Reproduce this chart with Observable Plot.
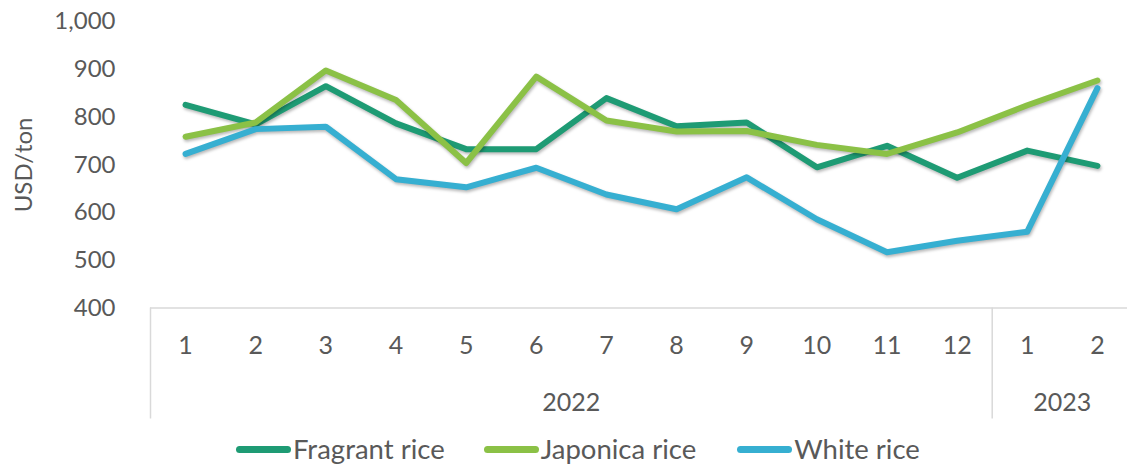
<!DOCTYPE html>
<html>
<head>
<meta charset="utf-8">
<script src="https://cdn.jsdelivr.net/npm/d3@7"></script>
<script src="https://cdn.jsdelivr.net/npm/@observablehq/plot@0.6"></script>
<style>
  html, body { margin: 0; padding: 0; background: #fff; }
  body { width: 1127px; height: 465px; overflow: hidden; font-family: Lato, "Open Sans", sans-serif; }
  #chart svg { display: block; }
  #chart g[aria-label="line"] path { filter: drop-shadow(1px 2px 1.5px rgba(0,0,0,0.28)); }
  #legend { position: relative; height: 32px; display: flex; align-items: center; padding-left: 236px; color: #595959; font-size: 27.5px; line-height: 32px; }
  .item { display: flex; align-items: center; }
  .sw { width: 55px; height: 7px; border-radius: 4px; margin-right: 2px; }
</style>
</head>
<body>
<div id="chart"></div>
<div id="legend"></div>
<script>
const months = ["1","2","3","4","5","6","7","8","9","10","11","12","1","2"];
const years = ["2022", "2023"];
const monthsPerYear = [12, 2];
const seriesNames = ["Fragrant rice", "Japonica rice", "White rice"];
const seriesColors = ["#1e9b74", "#8bc146", "#36afd1"];
const fragrant = [826, 785, 865, 787, 733, 733, 840, 781, 789, 695, 740, 673, 730, 698];
const japonica = [759, 789, 898, 836, 704, 885, 793, 770, 771, 742, 723, 768, 825, 877];
const white    = [723, 775, 780, 670, 653, 694, 638, 607, 674, 586, 517, 541, 560, 861];
const yTicks = [400, 500, 600, 700, 800, 900, 1000];

const seriesValues = [fragrant, japonica, white];
const rows = [];
seriesValues.forEach((vals, s) => vals.forEach((v, i) => rows.push({series: seriesNames[s], idx: i + 1, value: v})));

// group boundaries and centers for year labels
const boundaries = [0.5];
const yearCenters = [];
let acc = 0;
monthsPerYear.forEach(n => { yearCenters.push(acc + n / 2 + 0.5); acc += n; boundaries.push(acc + 0.5); });
const idxs = months.map((m, i) => i + 1);
const grid = "#d9d9d9";
const txt = "#595959";

const chart = Plot.plot({
  width: 1127,
  height: 433,
  marginTop: 21.3,
  marginBottom: 125.5,
  marginLeft: 150,
  marginRight: 0,
  style: { fontFamily: "Lato, 'Open Sans', sans-serif", color: txt, background: "#fff" },
  x: { type: "linear", domain: [0.5, 14.5], range: [150, 1132] },
  y: { domain: [400, 1000] },
  color: { domain: seriesNames, range: seriesColors },
  marks: [
    Plot.ruleY([400], { x1: 0.5, x2: 14.5, stroke: grid, strokeWidth: 1.5 }),
    Plot.ruleX(boundaries.slice(0, -1), { stroke: grid, strokeWidth: 1.5, insetTop: 286.2, insetBottom: -111 }),
    Plot.axisY({ ticks: yTicks, tickSize: 0, tickPadding: 35, tickFormat: d3.format(","), fontSize: 24, label: "USD/ton", labelAnchor: "center", labelOffset: 136, labelArrow: "none" }),
    Plot.axisX({ ticks: idxs, tickFormat: i => months[i - 1], tickSize: 0, tickPadding: 28.5, fontSize: 25, label: null }),
    Plot.axisX({ ticks: yearCenters, tickFormat: d => years[yearCenters.indexOf(d)], tickSize: 0, tickPadding: 85.5, fontSize: 25, label: null }),
    Plot.line(rows, { x: "idx", y: "value", z: "series", stroke: "series", strokeWidth: 6, strokeLinecap: "round", strokeLinejoin: "round" })
  ]
});
document.getElementById("chart").appendChild(chart);

const legend = d3.select("#legend");
seriesNames.forEach((name, i) => {
  const it = legend.append("div").attr("class", "item").style("margin-right", i === 0 ? "39px" : "41px");
  it.append("div").attr("class", "sw").style("background", seriesColors[i]);
  it.append("span").text(name);
});
</script>
</body>
</html>
